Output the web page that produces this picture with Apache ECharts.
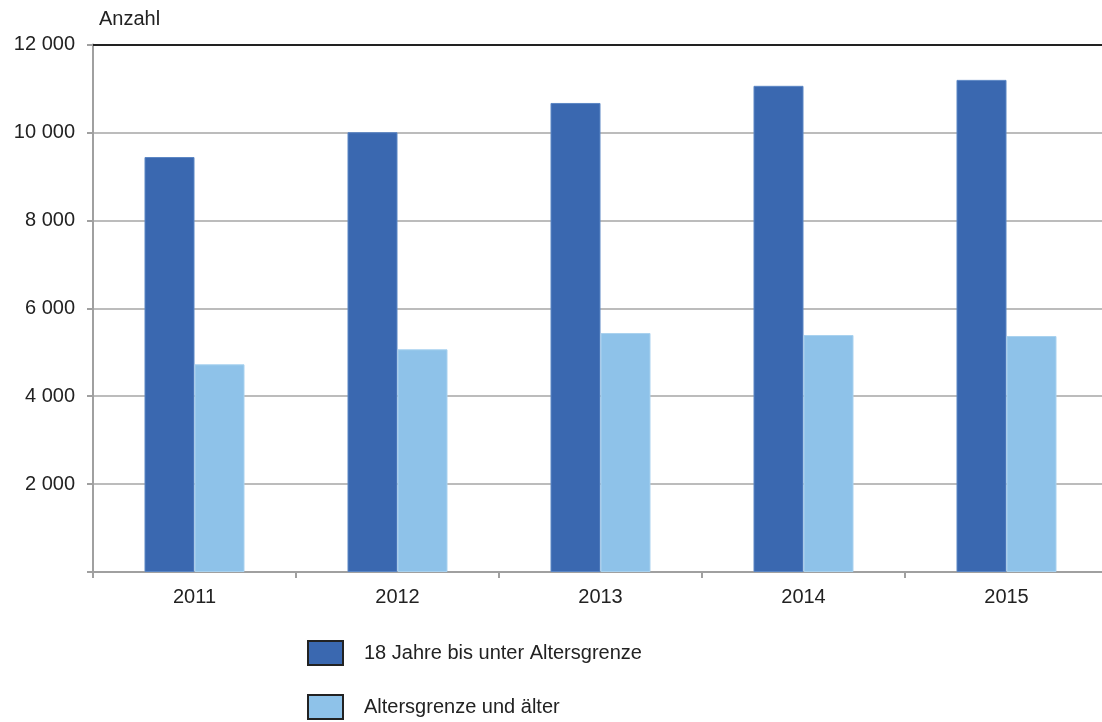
<!DOCTYPE html>
<html>
<head>
<meta charset="utf-8">
<script src="https://cdn.jsdelivr.net/npm/echarts@6/dist/echarts.min.js"></script>
<style>
html,body{margin:0;padding:0;background:#fff;overflow:hidden;}
#main{width:1108px;height:722px;}
</style>
</head>
<body>
<div id="main"></div>
<script>
const categories = ['2011', '2012', '2013', '2014', '2015'];
const seriesNames = ['18 Jahre bis unter Altersgrenze', 'Altersgrenze und älter'];
const adults = [9440, 10005, 10670, 11060, 11195];
const seniors = [4725, 5066, 5437, 5391, 5368];
const yTicks = [0, 2000, 4000, 6000, 8000, 10000, 12000];

const FONT = 'Liberation Sans, Arial, sans-serif';
const TXT = '#222';

function legendFor(name, top) {
  return {
    orient: 'vertical', left: 302, top: top,
    itemWidth: 35, itemHeight: 24,
    icon: 'rect',
    data: [name],
    itemStyle: {borderColor: '#222', borderWidth: 2},
    textStyle: {fontSize: 20, color: TXT, fontFamily: FONT, padding: [0, 0, 0, 16]}
  };
}

const chart = echarts.init(document.getElementById('main'), null, {renderer: 'canvas'});
chart.setOption({
  animation: false,
  backgroundColor: '#fff',
  textStyle: {fontFamily: FONT},
  title: {
    text: 'Anzahl', left: 99, top: 9, padding: 0,
    textStyle: {fontSize: 20, fontWeight: 'normal', color: TXT, fontFamily: FONT}
  },
  grid: {left: 93, right: 0, top: 44.5, height: 527.5, containLabel: false},
  legend: [legendFor(seriesNames[0], 635), legendFor(seriesNames[1], 689)],
  xAxis: [{
    type: 'category', data: categories,
    axisLine: {lineStyle: {color: '#a0a0a0', width: 2}},
    axisTick: {show: true, length: 6, lineStyle: {color: '#a0a0a0', width: 2}},
    axisLabel: {fontSize: 20, color: TXT, margin: 15, fontFamily: FONT}
  }, {
    type: 'category', data: categories, position: 'top',
    axisLine: {show: true, lineStyle: {color: '#222', width: 2}},
    axisTick: {show: false}, axisLabel: {show: false}
  }],
  yAxis: {
    type: 'value', min: yTicks[0], max: yTicks[yTicks.length - 1], interval: 2000,
    axisLine: {show: true, lineStyle: {color: '#a0a0a0', width: 2}},
    axisTick: {show: true, length: 6, lineStyle: {color: '#a0a0a0', width: 2}},
    splitLine: {show: true, lineStyle: {color: '#a6a6a6', width: 1.5}},
    axisLabel: {
      fontSize: 20, color: TXT, margin: 18, fontFamily: FONT,
      formatter: v => v === 0 ? '' : String(v).replace(/\B(?=(\d{3})+(?!\d))/g, ' ')
    }
  },
  series: [{
    name: seriesNames[0], type: 'bar', data: adults,
    barWidth: 50, barGap: '0%',
    itemStyle: {color: '#3a68b0', borderColor: '#5b86c4', borderWidth: 1}
  }, {
    name: seriesNames[1], type: 'bar', data: seniors,
    barWidth: 50, barGap: '0%',
    itemStyle: {color: '#8ec2e9', borderColor: '#a9d2ef', borderWidth: 1}
  }]
});
</script>
</body>
</html>
